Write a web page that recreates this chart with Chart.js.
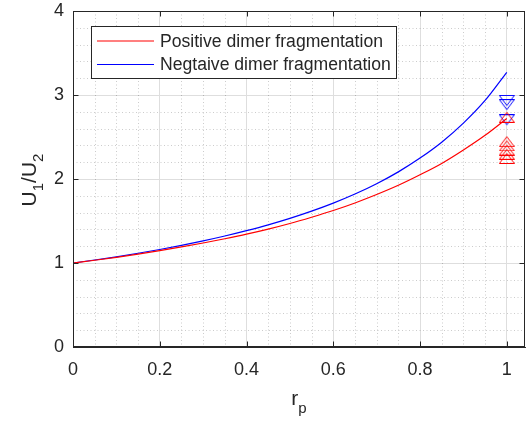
<!DOCTYPE html>
<html>
<head>
<meta charset="utf-8">
<script src="https://cdn.jsdelivr.net/npm/chart.js@4.4.1/dist/chart.umd.min.js"></script>
<style>
  html, body { margin: 0; padding: 0; background: #fff; }
  #wrap { width: 526px; height: 424px; }
</style>
</head>
<body>
<div id="wrap"><canvas id="ratioChart" width="526" height="424"></canvas></div>
<script>
// r_p sample points and the U1/U2 ratio for each fragmentation model
const rp = [0, 0.05, 0.1, 0.15, 0.2, 0.25, 0.3, 0.35, 0.4, 0.45, 0.5,
            0.55, 0.6, 0.65, 0.7, 0.75, 0.8, 0.85, 0.9, 0.95, 1];
const positiveRatio = [1.000, 1.033, 1.068, 1.106, 1.147, 1.191, 1.238, 1.289, 1.343, 1.403, 1.470,
                       1.545, 1.625, 1.715, 1.815, 1.925, 2.050, 2.185, 2.345, 2.520, 2.720];
const negativeRatio = [1.000, 1.036, 1.074, 1.116, 1.161, 1.210, 1.263, 1.321, 1.385, 1.454, 1.531,
                       1.617, 1.713, 1.821, 1.944, 2.085, 2.249, 2.438, 2.665, 2.935, 3.270];

// measured points at r_p = 1
const markerX = 1;
const positiveMarkers = [2.74, 2.45, 2.40, 2.35, 2.30, 2.25];
const negativeMarkers = [2.93, 2.88, 2.70];

const xTicks = [0, 0.2, 0.4, 0.6, 0.8, 1];
const yTicks = [0, 1, 2, 3, 4];
const seriesLabels = ["Positive dimer fragmentation", "Negtaive dimer fragmentation"];

const FONT = '"Liberation Sans", Arial, Helvetica, sans-serif';
const INK = "#262626";
const RED = "#ff0000";
const BLUE = "#0000ff";

function pts(xs, ys) {
  return xs.map((x, i) => ({ x: x, y: ys[i] }));
}

// open triangle marker, a bit flatter than equilateral
function triangleMarker(color, down) {
  const w = 16, h = 12;
  const c = document.createElement("canvas");
  c.width = w; c.height = h;
  const g = c.getContext("2d");
  g.strokeStyle = color;
  g.lineWidth = 1;
  g.beginPath();
  if (down) {
    g.moveTo(0.5, 0.5); g.lineTo(w - 0.5, 0.5); g.lineTo(w / 2, h - 1.5);
  } else {
    g.moveTo(w / 2, 1.5); g.lineTo(w - 0.5, h - 0.5); g.lineTo(0.5, h - 0.5);
  }
  g.closePath();
  g.stroke();
  return c;
}

// dotted minor grid (0.05 on x, 0.2 on y)
const minorGrid = {
  id: "minorGrid",
  beforeDatasetsDraw(chart) {
    const { ctx, chartArea: a, scales: { x, y } } = chart;
    ctx.save();
    ctx.strokeStyle = "rgba(0,0,0,0.2)";
    ctx.lineWidth = 1;
    ctx.setLineDash([1, 2.5]);
    for (let i = 1; i * 0.05 < x.max; i++) {
      if (i % 4 === 0) continue;
      const px = Math.round(x.getPixelForValue(i * 0.05)) + 0.5;
      ctx.beginPath(); ctx.moveTo(px, a.top); ctx.lineTo(px, a.bottom); ctx.stroke();
    }
    for (let i = 1; i * 0.2 < y.max; i++) {
      if (i % 5 === 0) continue;
      const py = Math.round(y.getPixelForValue(i * 0.2)) + 0.5;
      ctx.beginPath(); ctx.moveTo(a.left, py); ctx.lineTo(a.right, py); ctx.stroke();
    }
    ctx.restore();
  }
};

// box on + inward tick marks
const axesFrame = {
  id: "axesFrame",
  afterDatasetsDraw(chart) {
    const { ctx, chartArea: a, scales: { x, y } } = chart;
    const L = Math.round(a.left) + 0.5, R = Math.round(a.right) - 0.5;
    const T = Math.round(a.top) + 0.5, B = Math.round(a.bottom) - 0.5;
    ctx.save();
    ctx.strokeStyle = INK;
    ctx.lineWidth = 1;
    ctx.strokeRect(L, T, R - L, B - T);
    const len = 5;
    ctx.beginPath();
    xTicks.forEach(v => {
      const px = Math.round(x.getPixelForValue(v)) + 0.5;
      ctx.moveTo(px, B); ctx.lineTo(px, B - len);
      ctx.moveTo(px, T); ctx.lineTo(px, T + len);
    });
    yTicks.forEach(v => {
      const py = Math.round(y.getPixelForValue(v)) + 0.5;
      ctx.moveTo(L, py); ctx.lineTo(L + len, py);
      ctx.moveTo(R, py); ctx.lineTo(R - len, py);
    });
    ctx.stroke();
    ctx.restore();
  }
};

// axis titles with subscripts
const axisTitles = {
  id: "axisTitles",
  afterDraw(chart) {
    const { ctx, chartArea: a } = chart;
    const big = "21px " + FONT, small = "15px " + FONT;
    ctx.save();
    ctx.fillStyle = INK;
    ctx.textBaseline = "alphabetic";
    ctx.textAlign = "left";

    // x title: r_p
    ctx.font = big; const wr = ctx.measureText("r").width;
    ctx.font = small; const wp = ctx.measureText("p").width;
    let x0 = (a.left + a.right) / 2 - (wr + wp) / 2;
    ctx.font = big; ctx.fillText("r", x0, 405);
    ctx.font = small; ctx.fillText("p", x0 + wr, 413);

    // y title: U_1/U_2, rotated
    const parts = [["U", big, 0], ["1", small, 7], ["/U", big, 0], ["2", small, 7]];
    let total = 0;
    parts.forEach(p => { ctx.font = p[1]; total += ctx.measureText(p[0]).width; });
    ctx.translate(36, 180);
    ctx.rotate(-Math.PI / 2);
    let cx = -total / 2;
    parts.forEach(p => {
      ctx.font = p[1];
      ctx.fillText(p[0], cx, p[2]);
      cx += ctx.measureText(p[0]).width;
    });
    ctx.restore();
  }
};

// boxed legend in the upper left of the axes
const boxLegend = {
  id: "boxLegend",
  afterDraw(chart) {
    const { ctx } = chart;
    const bx = 91.5, by = 26.5, bw = 305, bh = 52;
    ctx.save();
    ctx.fillStyle = "#fff";
    ctx.fillRect(bx, by, bw, bh);
    ctx.strokeStyle = INK;
    ctx.lineWidth = 1;
    ctx.strokeRect(bx, by, bw, bh);
    ctx.font = "17.6px " + FONT;
    ctx.textBaseline = "middle";
    ctx.fillStyle = INK;
    [0, 1].forEach(i => {
      const ds = chart.data.datasets[i];
      const ly = 41 + i * 23.5;
      ctx.strokeStyle = ds.borderColor;
      ctx.lineWidth = 1.2;
      ctx.beginPath(); ctx.moveTo(97, ly); ctx.lineTo(154, ly); ctx.stroke();
      ctx.fillText(ds.label, 160, ly + 1);
    });
    ctx.restore();
  }
};

// keep the plot box fixed regardless of tick label overhang
function noOverhang(s) {
  s.paddingLeft = 0; s.paddingRight = 0; s.paddingTop = 0; s.paddingBottom = 0;
}

new Chart(document.getElementById("ratioChart"), {
  type: "scatter",
  data: {
    datasets: [
      { label: seriesLabels[0], data: pts(rp, positiveRatio), showLine: true, borderColor: RED,
        borderWidth: 1.2, pointRadius: 0, cubicInterpolationMode: "monotone" },
      { label: seriesLabels[1], data: pts(rp, negativeRatio), showLine: true, borderColor: BLUE,
        borderWidth: 1.2, pointRadius: 0, cubicInterpolationMode: "monotone" },
      { label: "pos", data: positiveMarkers.map(v => ({ x: markerX, y: v })), showLine: false,
        pointStyle: triangleMarker(RED, false), borderColor: RED },
      { label: "neg", data: negativeMarkers.map(v => ({ x: markerX, y: v })), showLine: false,
        pointStyle: triangleMarker(BLUE, true), borderColor: BLUE }
    ]
  },
  options: {
    responsive: false,
    animation: false,
    devicePixelRatio: 1,
    layout: { autoPadding: false, padding: { top: 11, right: 1, left: 0, bottom: 0 } },
    plugins: { legend: { display: false }, tooltip: { enabled: false } },
    scales: {
      x: {
        type: "linear", min: 0, max: 1.042,
        afterBuildTicks: s => { s.ticks = xTicks.map(v => ({ value: v })); },
        afterFit: s => { s.height = 77; noOverhang(s); },
        ticks: { color: INK, font: { family: FONT, size: 18 }, padding: 12, maxRotation: 0,
                 callback: v => String(v) },
        grid: { color: "#dedede", drawTicks: false, lineWidth: 1 },
        border: { color: INK, width: 1 }
      },
      y: {
        type: "linear", min: 0, max: 4,
        afterBuildTicks: s => { s.ticks = yTicks.map(v => ({ value: v })); },
        afterFit: s => { s.width = 73; noOverhang(s); },
        ticks: { color: INK, font: { family: FONT, size: 18 }, padding: 9,
                 callback: v => String(v) },
        grid: { color: "#dedede", drawTicks: false, lineWidth: 1 },
        border: { color: INK, width: 1 }
      }
    }
  },
  plugins: [minorGrid, axesFrame, axisTitles, boxLegend]
});
</script>
</body>
</html>
